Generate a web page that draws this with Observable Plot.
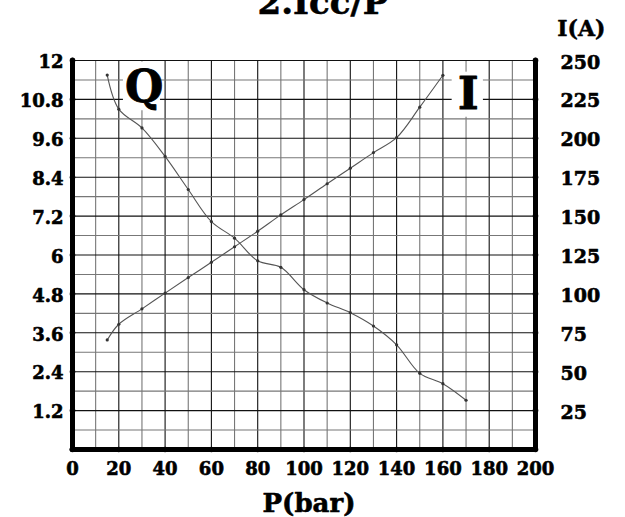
<!DOCTYPE html>
<html>
<head>
<meta charset="utf-8">
<script src="https://cdn.jsdelivr.net/npm/d3@7"></script>
<script src="https://cdn.jsdelivr.net/npm/@observablehq/plot@0.6"></script>
<style>
  html, body { margin: 0; padding: 0; background: #fff; }
  #chart svg { display: block; }
</style>
</head>
<body>
<div id="chart"></div>
<script>
// ---- data ----
const pressureQ = [15, 20, 30, 40, 50, 60, 70, 80, 90, 100, 110, 120, 130, 140, 150, 160, 170];
const flowQ     = [11.55, 10.5, 9.92, 9.04, 8.02, 7.03, 6.52, 5.82, 5.62, 4.93, 4.52, 4.22, 3.81, 3.23, 2.35, 2.03, 1.52];
const pressureI = [15, 20, 30, 40, 50, 60, 70, 80, 90, 100, 110, 120, 130, 140, 150, 160];
const currentI  = [70.4, 80.5, 90.4, 100.5, 110.5, 120.3, 130.3, 140.3, 150.8, 160.6, 170.8, 180.8, 190.8, 200.4, 220, 240.5];
const xTicks = [0, 20, 40, 60, 80, 100, 120, 140, 160, 180, 200];
const leftTicks = [1.2, 2.4, 3.6, 4.8, 6, 7.2, 8.4, 9.6, 10.8, 12];
const leftLabels = ["1.2", "2.4", "3.6", "4.8", "6", "7.2", "8.4", "9.6", "10.8", "12"];
const rightTicks = [25, 50, 75, 100, 125, 150, 175, 200, 225, 250];
const title = "2.Icc/P";
const xLabel = "P(bar)";
const rightLabel = "I(A)";

const Q_MAX = 12, I_MAX = 250;
const toQ = v => v * Q_MAX / I_MAX;

const qData = pressureQ.map((p, i) => ({p, v: flowQ[i]}));
const iData = pressureI.map((p, i) => ({p, v: toQ(currentI[i])}));

const vGrid = d3.range(10, 200, 10);
const hGrid = d3.range(1, 21).map(k => +(k * 0.6).toFixed(2));

const font = "'DejaVu Serif', 'Liberation Serif', serif";

const chart = Plot.plot({
  width: 625,
  height: 517,
  marginLeft: 72,
  marginRight: 90,
  marginTop: 60,
  marginBottom: 68,
  style: {fontFamily: font, background: "#fff", overflow: "visible"},
  x: {domain: [0, 200]},
  y: {domain: [0, Q_MAX]},
  marks: [
    // grid
    Plot.ruleX(vGrid, {x: d => d, y1: 0, y2: Q_MAX, stroke: d => (d % 20 === 0 ? "#111" : "#777"), strokeWidth: 1.1}),
    Plot.ruleY(hGrid, {y: d => d, x1: 0, x2: 200, stroke: (d, i) => (i % 2 === 1 ? "#111" : "#777"), strokeWidth: 1.1}),
    // label boxes
    Plot.rect([0], {x1: 22, x2: 38, y1: 10.45, y2: 11.95, fill: "#fff"}),
    Plot.rect([0], {x1: 164, x2: 177.5, y1: 10.25, y2: 11.64, fill: "#fff"}),
    Plot.text(["Q"], {x: 31, y: 11.15, text: d => d, fontSize: 44, fontWeight: "bold", fill: "#000", stroke: "#000", strokeWidth: 0.8}),
    Plot.text(["I"], {x: 171, y: 10.93, text: d => d, fontSize: 44, fontWeight: "bold", fill: "#000", stroke: "#000", strokeWidth: 1}),
    // curves
    Plot.line(qData, {x: "p", y: "v", curve: "catmull-rom", stroke: "#555", strokeWidth: 1.1}),
    Plot.dot(qData, {x: "p", y: "v", r: 1.6, fill: "#333", stroke: null}),
    Plot.line(iData, {x: "p", y: "v", curve: "catmull-rom", stroke: "#555", strokeWidth: 1.1}),
    Plot.dot(iData, {x: "p", y: "v", r: 1.6, fill: "#333", stroke: null}),
    // thick axis lines
    Plot.ruleX([0, 200], {x: d => d, y1: 0, y2: Q_MAX, stroke: "#000", strokeWidth: 5, strokeLinecap: "round"}),
    Plot.ruleY([0], {y: d => d, x1: 0, x2: 200, stroke: "#000", strokeWidth: 5, strokeLinecap: "round"}),
    // tick dots on axes
    Plot.dot(xTicks, {x: d => d, y: 0, r: 2.8, fill: "#000"}),
    Plot.dot(leftTicks, {x: 0, y: d => d, r: 2.8, fill: "#000"}),
    Plot.dot(rightTicks, {x: 200, y: d => toQ(d), r: 2.8, fill: "#000"}),
    // axes
    Plot.axisX({ticks: xTicks, tickSize: 0, tickPadding: 13, fontSize: 18, fontWeight: "bold", label: null, tickFormat: d => String(d),
      fill: "#000", textStroke: "#000", textStrokeWidth: 0.6}),
    Plot.axisY({anchor: "left", ticks: leftTicks, tickSize: 0, tickPadding: 9, fontSize: 18, fontWeight: "bold", label: null,
      tickFormat: d => leftLabels[leftTicks.indexOf(d)], fill: "#000", textStroke: "#000", textStrokeWidth: 0.6, dy: 2}),
    Plot.axisY({anchor: "right", ticks: rightTicks.map(toQ), tickSize: 0, tickPadding: 25, fontSize: 19, fontWeight: "bold", label: null,
      tickFormat: d => String(rightTicks[rightTicks.map(toQ).findIndex(t => Math.abs(t - d) < 1e-9)]), fill: "#000", textStroke: "#000", textStrokeWidth: 0.6, dy: 2}),
    // titles
    Plot.text([xLabel], {frameAnchor: "bottom", dy: 62, dx: 5, text: d => d, fontSize: 26, fontWeight: "bold", fill: "#000", stroke: "#000", strokeWidth: 0.6}),
    Plot.text([rightLabel], {frameAnchor: "top-right", dy: -40, dx: 70, text: d => d, fontSize: 22, fontWeight: "bold", fill: "#000", stroke: "#000", strokeWidth: 0.5, textAnchor: "end"}),
    Plot.text([title], {frameAnchor: "top", dy: -71, dx: 19, text: d => d, fontSize: 34, fontWeight: "bold", fill: "#000", stroke: "#000", strokeWidth: 0.6, lineAnchor: "top"})
  ]
});
document.getElementById("chart").appendChild(chart);
</script>
</body>
</html>
